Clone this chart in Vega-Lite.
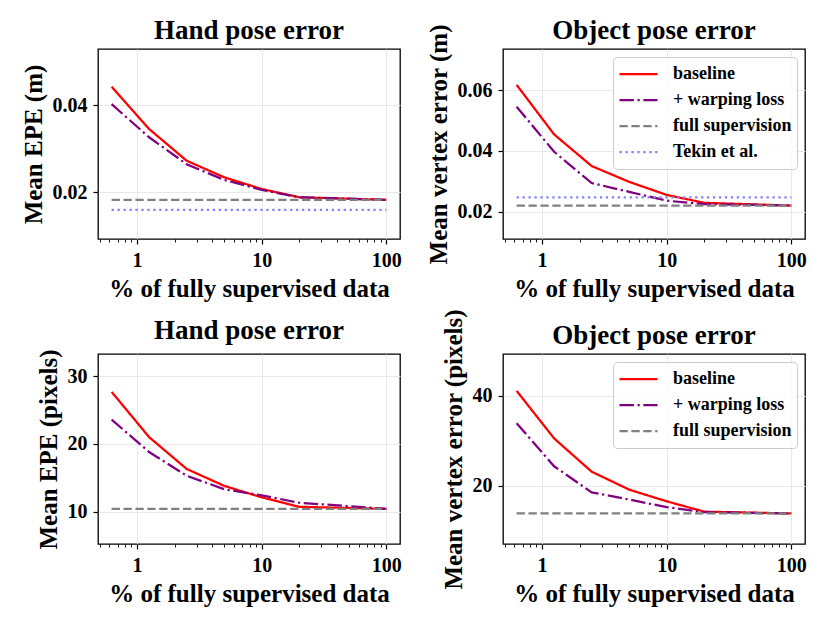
{
  "$schema": "https://vega.github.io/schema/vega-lite/v6.json",
  "padding": {"left": 20, "top": 16, "right": 5, "bottom": 5},
  "config": {
    "font": "Liberation Serif",
    "view": {"stroke": "black", "strokeWidth": 1.3},
    "axis": {
      "labelFont": "Liberation Serif", "labelFontWeight": "bold", "labelFontSize": 20, "labelColor": "black",
      "titleFont": "Liberation Serif", "titleFontWeight": "bold", "titleFontSize": 25, "titleColor": "black",
      "tickColor": "black", "tickSize": 5, "tickWidth": 1.2, "labelPadding": 6, "titlePadding": 6,
      "domain": false, "gridColor": "#e8e8e8", "gridWidth": 1, "labelOverlap": false, "labelFlush": false
    },
    "title": {"font": "Liberation Serif", "fontSize": 27, "fontWeight": "bold", "color": "black", "baseline": "alphabetic", "offset": 4, "frame": "group"},
    "legend": {
      "orient": "top-right", "offset": 8, "labelFont": "Liberation Serif", "labelFontSize": 18, "labelFontWeight": "bold",
      "labelColor": "black", "symbolType": "stroke", "symbolSize": 1444, "symbolStrokeWidth": 2.25,
      "fillColor": "rgba(255,255,255,0.8)", "strokeColor": "#cccccc", "cornerRadius": 4, "padding": 5, "labelOffset": 14,
      "clipHeight": 24, "rowPadding": 2
    },
    "line": {"strokeWidth": 2.25}
  },
  "data": {
    "values": [
      {"panel": "TL", "series": "baseline", "pct": 0.625, "v": 0.0442},
      {"panel": "TL", "series": "baseline", "pct": 1.25, "v": 0.0345},
      {"panel": "TL", "series": "baseline", "pct": 2.5, "v": 0.0272},
      {"panel": "TL", "series": "baseline", "pct": 5, "v": 0.0234},
      {"panel": "TL", "series": "baseline", "pct": 10, "v": 0.0207},
      {"panel": "TL", "series": "baseline", "pct": 20, "v": 0.0188},
      {"panel": "TL", "series": "baseline", "pct": 100, "v": 0.0182},
      {"panel": "TL", "series": "+ warping loss", "pct": 0.625, "v": 0.0402},
      {"panel": "TL", "series": "+ warping loss", "pct": 1.25, "v": 0.0326},
      {"panel": "TL", "series": "+ warping loss", "pct": 2.5, "v": 0.0264},
      {"panel": "TL", "series": "+ warping loss", "pct": 5, "v": 0.0228},
      {"panel": "TL", "series": "+ warping loss", "pct": 10, "v": 0.0205},
      {"panel": "TL", "series": "+ warping loss", "pct": 20, "v": 0.0188},
      {"panel": "TL", "series": "+ warping loss", "pct": 100, "v": 0.0182},
      {"panel": "TL", "series": "full supervision", "pct": 0.625, "v": 0.0182},
      {"panel": "TL", "series": "full supervision", "pct": 100, "v": 0.0182},
      {"panel": "TL", "series": "Tekin et al.", "pct": 0.625, "v": 0.0159},
      {"panel": "TL", "series": "Tekin et al.", "pct": 100, "v": 0.0159},

      {"panel": "TR", "series": "baseline", "pct": 0.625, "v": 0.0617},
      {"panel": "TR", "series": "baseline", "pct": 1.25, "v": 0.0454},
      {"panel": "TR", "series": "baseline", "pct": 2.5, "v": 0.035},
      {"panel": "TR", "series": "baseline", "pct": 5, "v": 0.0298},
      {"panel": "TR", "series": "baseline", "pct": 10, "v": 0.0255},
      {"panel": "TR", "series": "baseline", "pct": 20, "v": 0.0229},
      {"panel": "TR", "series": "baseline", "pct": 100, "v": 0.022},
      {"panel": "TR", "series": "+ warping loss", "pct": 0.625, "v": 0.0545},
      {"panel": "TR", "series": "+ warping loss", "pct": 1.25, "v": 0.0397},
      {"panel": "TR", "series": "+ warping loss", "pct": 2.5, "v": 0.0294},
      {"panel": "TR", "series": "+ warping loss", "pct": 5, "v": 0.0265},
      {"panel": "TR", "series": "+ warping loss", "pct": 10, "v": 0.0236},
      {"panel": "TR", "series": "+ warping loss", "pct": 20, "v": 0.0225},
      {"panel": "TR", "series": "+ warping loss", "pct": 100, "v": 0.022},
      {"panel": "TR", "series": "full supervision", "pct": 0.625, "v": 0.022},
      {"panel": "TR", "series": "full supervision", "pct": 100, "v": 0.022},
      {"panel": "TR", "series": "Tekin et al.", "pct": 0.625, "v": 0.0247},
      {"panel": "TR", "series": "Tekin et al.", "pct": 100, "v": 0.0247},

      {"panel": "BL", "series": "baseline", "pct": 0.625, "v": 27.7},
      {"panel": "BL", "series": "baseline", "pct": 1.25, "v": 21.0},
      {"panel": "BL", "series": "baseline", "pct": 2.5, "v": 16.3},
      {"panel": "BL", "series": "baseline", "pct": 5, "v": 13.8},
      {"panel": "BL", "series": "baseline", "pct": 10, "v": 12.1},
      {"panel": "BL", "series": "baseline", "pct": 20, "v": 10.7},
      {"panel": "BL", "series": "baseline", "pct": 100, "v": 10.4},
      {"panel": "BL", "series": "+ warping loss", "pct": 0.625, "v": 23.6},
      {"panel": "BL", "series": "+ warping loss", "pct": 1.25, "v": 18.8},
      {"panel": "BL", "series": "+ warping loss", "pct": 2.5, "v": 15.3},
      {"panel": "BL", "series": "+ warping loss", "pct": 5, "v": 13.3},
      {"panel": "BL", "series": "+ warping loss", "pct": 10, "v": 12.4},
      {"panel": "BL", "series": "+ warping loss", "pct": 20, "v": 11.3},
      {"panel": "BL", "series": "+ warping loss", "pct": 100, "v": 10.4},
      {"panel": "BL", "series": "full supervision", "pct": 0.625, "v": 10.4},
      {"panel": "BL", "series": "full supervision", "pct": 100, "v": 10.4},

      {"panel": "BR", "series": "baseline", "pct": 0.625, "v": 41.1},
      {"panel": "BR", "series": "baseline", "pct": 1.25, "v": 30.5},
      {"panel": "BR", "series": "baseline", "pct": 2.5, "v": 23.1},
      {"panel": "BR", "series": "baseline", "pct": 5, "v": 19.1},
      {"panel": "BR", "series": "baseline", "pct": 10, "v": 16.5},
      {"panel": "BR", "series": "baseline", "pct": 20, "v": 14.2},
      {"panel": "BR", "series": "baseline", "pct": 100, "v": 13.8},
      {"panel": "BR", "series": "+ warping loss", "pct": 0.625, "v": 33.9},
      {"panel": "BR", "series": "+ warping loss", "pct": 1.25, "v": 24.3},
      {"panel": "BR", "series": "+ warping loss", "pct": 2.5, "v": 18.5},
      {"panel": "BR", "series": "+ warping loss", "pct": 5, "v": 16.9},
      {"panel": "BR", "series": "+ warping loss", "pct": 10, "v": 15.2},
      {"panel": "BR", "series": "+ warping loss", "pct": 20, "v": 14.1},
      {"panel": "BR", "series": "+ warping loss", "pct": 100, "v": 13.8},
      {"panel": "BR", "series": "full supervision", "pct": 0.625, "v": 13.8},
      {"panel": "BR", "series": "full supervision", "pct": 100, "v": 13.8}
    ]
  },
  "columns": 2,
  "spacing": {"row": 115, "column": 103},
  "bounds": "flush",
  "resolve": {"scale": {"x": "independent", "y": "independent", "color": "independent", "strokeDash": "independent"}},
  "concat": [
    {
      "title": {"text": "Hand pose error", "offset": 4},
      "width": 302, "height": 190,
      "transform": [{"filter": "datum.panel == 'TL'"}],
      "mark": {"type": "line"},
      "encoding": {
        "x": {"field": "pct", "type": "quantitative", "title": "% of fully supervised data",
          "scale": {"type": "log", "domain": [0.486, 128.7], "nice": false},
          "axis": {"values": [0.5, 0.6, 0.7, 0.8, 0.9, 1, 2, 3, 4, 5, 6, 7, 8, 9, 10, 20, 30, 40, 50, 60, 70, 80, 90, 100],
            "labelExpr": "datum.value == 1 ? '1' : datum.value == 10 ? '10' : datum.value == 100 ? '100' : ''",
            "tickSize": {"condition": {"test": "datum.value == 1 || datum.value == 10 || datum.value == 100", "value": 5}, "value": 3},
            "tickWidth": {"condition": {"test": "datum.value == 1 || datum.value == 10 || datum.value == 100", "value": 1.2}, "value": 0.9},
            "gridOpacity": {"condition": {"test": "datum.value == 1 || datum.value == 10 || datum.value == 100", "value": 1}, "value": 0}}},
        "y": {"field": "v", "type": "quantitative", "title": "Mean EPE (m)",
          "scale": {"domain": [0.0092, 0.0529], "nice": false, "zero": false},
          "axis": {"values": [0.02, 0.04], "format": ".2f"}},
        "color": {"field": "series", "type": "nominal", "legend": null,
          "scale": {"domain": ["baseline", "+ warping loss", "full supervision", "Tekin et al."], "range": ["#ff0000", "#800080", "#808080", "#8080ff"]}},
        "strokeDash": {"field": "series", "type": "nominal", "legend": null,
          "scale": {"domain": ["baseline", "+ warping loss", "full supervision", "Tekin et al."], "range": [[1, 0], [14.4, 3.6, 2.25, 3.6], [8.3, 3.6], [2.25, 3.7]]}}
      }
    },
    {
      "title": {"text": "Object pose error", "offset": -21.5},
      "width": 302, "height": 190,
      "transform": [{"filter": "datum.panel == 'TR'"}],
      "mark": {"type": "line"},
      "encoding": {
        "x": {"field": "pct", "type": "quantitative", "title": "% of fully supervised data",
          "scale": {"type": "log", "domain": [0.486, 128.7], "nice": false},
          "axis": {"values": [0.5, 0.6, 0.7, 0.8, 0.9, 1, 2, 3, 4, 5, 6, 7, 8, 9, 10, 20, 30, 40, 50, 60, 70, 80, 90, 100],
            "labelExpr": "datum.value == 1 ? '1' : datum.value == 10 ? '10' : datum.value == 100 ? '100' : ''",
            "tickSize": {"condition": {"test": "datum.value == 1 || datum.value == 10 || datum.value == 100", "value": 5}, "value": 3},
            "tickWidth": {"condition": {"test": "datum.value == 1 || datum.value == 10 || datum.value == 100", "value": 1.2}, "value": 0.9},
            "gridOpacity": {"condition": {"test": "datum.value == 1 || datum.value == 10 || datum.value == 100", "value": 1}, "value": 0}}},
        "y": {"field": "v", "type": "quantitative", "title": "Mean vertex error (m)",
          "scale": {"domain": [0.011, 0.0735], "nice": false, "zero": false},
          "axis": {"values": [0.02, 0.04, 0.06], "format": ".2f"}},
        "color": {"field": "series", "type": "nominal", "legend": {"title": null},
          "scale": {"domain": ["baseline", "+ warping loss", "full supervision", "Tekin et al."], "range": ["#ff0000", "#800080", "#808080", "#8080ff"]}},
        "strokeDash": {"field": "series", "type": "nominal", "legend": {"title": null},
          "scale": {"domain": ["baseline", "+ warping loss", "full supervision", "Tekin et al."], "range": [[1, 0], [14.4, 3.6, 2.25, 3.6], [8.3, 3.6], [2.25, 3.7]]}}
      }
    },
    {
      "title": {"text": "Hand pose error", "offset": 4},
      "width": 302, "height": 190,
      "transform": [{"filter": "datum.panel == 'BL'"}],
      "mark": {"type": "line"},
      "encoding": {
        "x": {"field": "pct", "type": "quantitative", "title": "% of fully supervised data",
          "scale": {"type": "log", "domain": [0.486, 128.7], "nice": false},
          "axis": {"values": [0.5, 0.6, 0.7, 0.8, 0.9, 1, 2, 3, 4, 5, 6, 7, 8, 9, 10, 20, 30, 40, 50, 60, 70, 80, 90, 100],
            "labelExpr": "datum.value == 1 ? '1' : datum.value == 10 ? '10' : datum.value == 100 ? '100' : ''",
            "tickSize": {"condition": {"test": "datum.value == 1 || datum.value == 10 || datum.value == 100", "value": 5}, "value": 3},
            "tickWidth": {"condition": {"test": "datum.value == 1 || datum.value == 10 || datum.value == 100", "value": 1.2}, "value": 0.9},
            "gridOpacity": {"condition": {"test": "datum.value == 1 || datum.value == 10 || datum.value == 100", "value": 1}, "value": 0}}},
        "y": {"field": "v", "type": "quantitative", "title": "Mean EPE (pixels)",
          "scale": {"domain": [5.2, 33.3], "nice": false, "zero": false},
          "axis": {"values": [10, 20, 30], "format": "d"}},
        "color": {"field": "series", "type": "nominal", "legend": null,
          "scale": {"domain": ["baseline", "+ warping loss", "full supervision"], "range": ["#ff0000", "#800080", "#808080"]}},
        "strokeDash": {"field": "series", "type": "nominal", "legend": null,
          "scale": {"domain": ["baseline", "+ warping loss", "full supervision"], "range": [[1, 0], [14.4, 3.6, 2.25, 3.6], [8.3, 3.6]]}}
      }
    },
    {
      "title": {"text": "Object pose error", "offset": -41.5},
      "width": 302, "height": 190,
      "transform": [{"filter": "datum.panel == 'BR'"}],
      "mark": {"type": "line"},
      "encoding": {
        "x": {"field": "pct", "type": "quantitative", "title": "% of fully supervised data",
          "scale": {"type": "log", "domain": [0.486, 128.7], "nice": false},
          "axis": {"values": [0.5, 0.6, 0.7, 0.8, 0.9, 1, 2, 3, 4, 5, 6, 7, 8, 9, 10, 20, 30, 40, 50, 60, 70, 80, 90, 100],
            "labelExpr": "datum.value == 1 ? '1' : datum.value == 10 ? '10' : datum.value == 100 ? '100' : ''",
            "tickSize": {"condition": {"test": "datum.value == 1 || datum.value == 10 || datum.value == 100", "value": 5}, "value": 3},
            "tickWidth": {"condition": {"test": "datum.value == 1 || datum.value == 10 || datum.value == 100", "value": 1.2}, "value": 0.9},
            "gridOpacity": {"condition": {"test": "datum.value == 1 || datum.value == 10 || datum.value == 100", "value": 1}, "value": 0}}},
        "y": {"field": "v", "type": "quantitative", "title": "Mean vertex error (pixels)",
          "scale": {"domain": [7.0, 49.3], "nice": false, "zero": false},
          "axis": {"values": [20, 40], "format": "d"}},
        "color": {"field": "series", "type": "nominal", "legend": {"title": null},
          "scale": {"domain": ["baseline", "+ warping loss", "full supervision"], "range": ["#ff0000", "#800080", "#808080"]}},
        "strokeDash": {"field": "series", "type": "nominal", "legend": {"title": null},
          "scale": {"domain": ["baseline", "+ warping loss", "full supervision"], "range": [[1, 0], [14.4, 3.6, 2.25, 3.6], [8.3, 3.6]]}}
      }
    }
  ]
}
